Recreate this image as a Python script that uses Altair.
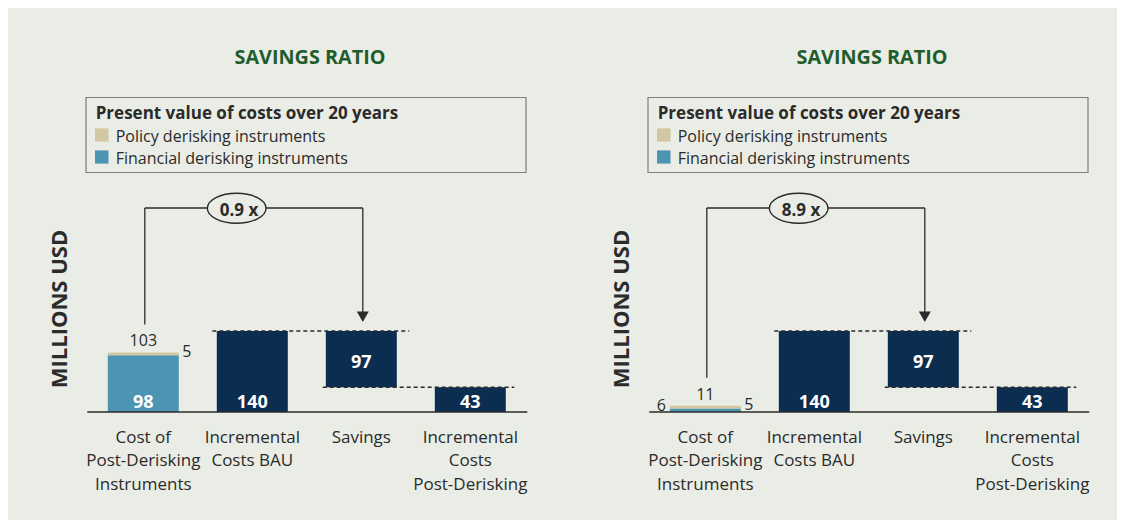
import altair as alt
import pandas as pd

# ---------------- data ----------------
KEYS = ["cost", "bau", "savings", "post"]
CATEGORY_LABELS = [
    "Cost of\nPost-Derisking\nInstruments",
    "Incremental\nCosts BAU",
    "Savings",
    "Incremental\nCosts\nPost-Derisking",
]
PANEL_TITLES = ["SAVINGS RATIO", "SAVINGS RATIO"]
FINANCIAL = [98, 6]
POLICY = [5, 5]
BAU = [140, 140]
POST = [43, 43]
RATIO_LABELS = ["0.9 x", "8.9 x"]
FIN_LABEL_INSIDE = [True, False]
LEGEND_TITLE = "Present value of costs over 20 years"
SERIES = ["Policy derisking instruments", "Financial derisking instruments"]
Y_TITLE = "MILLIONS USD"

# ---------------- style ----------------
FONT = "Open Sans"
NAVY = "#0b2d4f"
BLUE = "#4d93b2"
TAN = "#d3c7a1"
BG = "#eaede6"
GREEN = "#1f5d2d"
INK = "#2b2b2b"
SERIES_COLORS = [TAN, BLUE]

ELLIPSE = ("M-1,0 C-1,-0.2822 -0.5523,-0.511 0,-0.511 "
           "C0.5523,-0.511 1,-0.2822 1,0 "
           "C1,0.2822 0.5523,0.511 0,0.511 "
           "C-0.5523,0.511 -1,0.2822 -1,0 Z")

PX_PER_UNIT = 0.578
BASE = 404.0


def panel(i, width):
    fin, pol = FINANCIAL[i], POLICY[i]
    total = fin + pol
    savings = BAU[i] - POST[i]

    xs = alt.Scale(type="point", domain=KEYS, range=[135.3, 462.3], padding=0)
    ys = alt.Scale(domain=[0, 140], range=[BASE, BASE - 140 * PX_PER_UNIT],
                   nice=False, zero=False)

    def X(f):
        return alt.X(f, type="nominal", scale=xs, axis=None)

    def Y(f):
        return alt.Y(f, type="quantitative", scale=ys, axis=None)

    one = pd.DataFrame({"k": [0]})

    bars = pd.DataFrame({
        "key": ["cost", "cost", "bau", "savings", "post"],
        "start": [0, fin, 0, POST[i], 0],
        "end": [fin, total, BAU[i], BAU[i], POST[i]],
        "color": [BLUE, TAN, NAVY, NAVY, NAVY],
    })
    layers = []

    # title
    layers.append(alt.Chart(one).mark_text(
        font=FONT, fontSize=19.8, fontWeight="bold", color=GREEN,
        align="center", baseline="alphabetic", text=PANEL_TITLES[i]
    ).encode(x=alt.value(302), y=alt.value(56)))

    # legend box
    layers.append(alt.Chart(one).mark_rect(
        fill=BG, stroke="#7d7d7d", strokeWidth=1.2
    ).encode(x=alt.value(78), x2=alt.value(518), y=alt.value(89.5), y2=alt.value(164.5)))
    layers.append(alt.Chart(one).mark_text(
        font=FONT, fontSize=17, fontWeight="bold", color=INK,
        align="left", baseline="alphabetic", text=LEGEND_TITLE
    ).encode(x=alt.value(87.7), y=alt.value(111.3)))
    for j, (name, col) in enumerate(zip(SERIES, SERIES_COLORS)):
        base_line = 133.6 + j * 22.0
        layers.append(alt.Chart(one).mark_rect(fill=col).encode(
            x=alt.value(87), x2=alt.value(100.5),
            y=alt.value(base_line - 13.2), y2=alt.value(base_line)))
        layers.append(alt.Chart(one).mark_text(
            font=FONT, fontSize=16, color=INK, align="left", baseline="alphabetic", text=name
        ).encode(x=alt.value(107.7), y=alt.value(base_line)))

    # y title
    layers.append(alt.Chart(one).mark_text(
        font=FONT, fontSize=22, fontWeight="bold", color=INK, angle=270,
        align="center", baseline="alphabetic", text=Y_TITLE
    ).encode(x=alt.value(58.7), y=alt.value(301)))

    # bars
    layers.append(alt.Chart(bars).mark_bar(width=71).encode(
        x=X("key"), y=Y("start"), y2=alt.Y2("end"),
        color=alt.Color("color:N", scale=None)))

    # dashed guide lines
    d1 = pd.DataFrame({"a": ["bau"], "b": ["savings"], "v": [BAU[i]]})
    d2 = pd.DataFrame({"a": ["savings"], "b": ["post"], "v": [POST[i]]})
    layers.append(alt.Chart(d1).mark_rule(
        color=INK, strokeWidth=1.5, strokeDash=[4, 3], xOffset=-40, x2Offset=48
    ).encode(x=X("a"), x2=alt.X2("b"), y=Y("v")))
    layers.append(alt.Chart(d2).mark_rule(
        color=INK, strokeWidth=1.5, strokeDash=[4, 3], xOffset=-38.6, x2Offset=44
    ).encode(x=X("a"), x2=alt.X2("b"), y=Y("v")))

    # baseline axis
    layers.append(alt.Chart(pd.DataFrame({"v": [0]})).mark_rule(
        color=INK, strokeWidth=1.5
    ).encode(x=alt.value(79.3), x2=alt.value(519.3), y=Y("v")))

    # bracket
    bl = pd.DataFrame({"key": ["cost"], "v": [total]})
    layers.append(alt.Chart(bl).mark_rule(color=INK, strokeWidth=1.3, yOffset=-28, xOffset=1.5)
                  .encode(x=X("key"), y=Y("v"), y2=alt.value(200)))
    bh = pd.DataFrame({"a": ["cost"], "b": ["savings"]})
    layers.append(alt.Chart(bh).mark_rule(color=INK, strokeWidth=1.3, xOffset=1.5, x2Offset=1.5)
                  .encode(x=X("a"), x2=alt.X2("b"), y=alt.value(200)))
    br = pd.DataFrame({"key": ["savings"], "v": [BAU[i]]})
    layers.append(alt.Chart(br).mark_rule(color=INK, strokeWidth=1.3, yOffset=-19, xOffset=1.5)
                  .encode(x=X("key"), y=Y("v"), y2=alt.value(200)))
    layers.append(alt.Chart(br).mark_point(
        shape="triangle-down", filled=True, size=144, opacity=1, color=INK,
        yOffset=-14.3, xOffset=1.5
    ).encode(x=X("key"), y=Y("v")))

    # ratio ellipse
    ell = pd.DataFrame({"key": ["bau"], "t": [RATIO_LABELS[i]]})
    layers.append(alt.Chart(ell).mark_point(
        shape=ELLIPSE, size=3446, fill=BG, stroke=INK, strokeWidth=1.4,
        opacity=1, fillOpacity=1, xOffset=-15.6
    ).encode(x=X("key"), y=alt.value(200.3)))
    layers.append(alt.Chart(ell).mark_text(
        font=FONT, fontSize=17, fontWeight="bold", color=INK,
        align="center", baseline="alphabetic", dx=-13.3
    ).encode(x=X("key"), y=alt.value(208), text="t:N"))

    # value labels at bottom of bars (white)
    bottom_keys = ["bau", "post"]
    bottom_vals = [BAU[i], POST[i]]
    if FIN_LABEL_INSIDE[i]:
        bottom_keys = ["cost"] + bottom_keys
        bottom_vals = [fin] + bottom_vals
    bdf = pd.DataFrame({"key": bottom_keys, "t": [str(v) for v in bottom_vals],
                        "v": [0] * len(bottom_keys)})
    layers.append(alt.Chart(bdf).mark_text(
        font=FONT, fontSize=18, fontWeight="bold", color="white",
        align="center", baseline="alphabetic", dy=-4
    ).encode(x=X("key"), y=Y("v"), text="t:N"))

    sdf = pd.DataFrame({"key": ["savings"], "t": [str(savings)],
                        "v": [(POST[i] + BAU[i]) / 2]})
    layers.append(alt.Chart(sdf).mark_text(
        font=FONT, fontSize=18, fontWeight="bold", color="white",
        align="center", baseline="alphabetic", dy=9
    ).encode(x=X("key"), y=Y("v"), text="t:N"))

    # outside labels for the stacked bar
    tdf = pd.DataFrame({"key": ["cost"], "t": [str(total)], "v": [total]})
    layers.append(alt.Chart(tdf).mark_text(
        font=FONT, fontSize=16, color=INK, align="center", baseline="alphabetic", dy=-6
    ).encode(x=X("key"), y=Y("v"), text="t:N"))
    pdf = pd.DataFrame({"key": ["cost"], "t": [str(pol)], "v": [fin + pol / 2]})
    layers.append(alt.Chart(pdf).mark_text(
        font=FONT, fontSize=16, color=INK, align="left", baseline="alphabetic", dy=3, dx=39
    ).encode(x=X("key"), y=Y("v"), text="t:N"))
    if not FIN_LABEL_INSIDE[i]:
        fdf = pd.DataFrame({"key": ["cost"], "t": [str(fin)], "v": [0]})
        layers.append(alt.Chart(fdf).mark_text(
            font=FONT, fontSize=16, color=INK, align="right", baseline="alphabetic",
            dy=-1, dx=-39.5
        ).encode(x=X("key"), y=Y("v"), text="t:N"))

    # category labels
    cdf = pd.DataFrame({"key": KEYS, "t": CATEGORY_LABELS})
    layers.append(alt.Chart(cdf).mark_text(
        font=FONT, fontSize=17, color=INK, align="center", baseline="alphabetic",
        lineBreak="\n", lineHeight=23.5
    ).encode(x=X("key"), y=alt.value(434.7), text="t:N"))

    return alt.layer(*layers).properties(width=width, height=512)


chart = alt.hconcat(panel(0, 562), panel(1, 547), spacing=0).properties(
    background=BG, padding=0
).configure_view(stroke=None)

chart.save("out.html", embed_options={"renderer": "svg", "actions": False})
